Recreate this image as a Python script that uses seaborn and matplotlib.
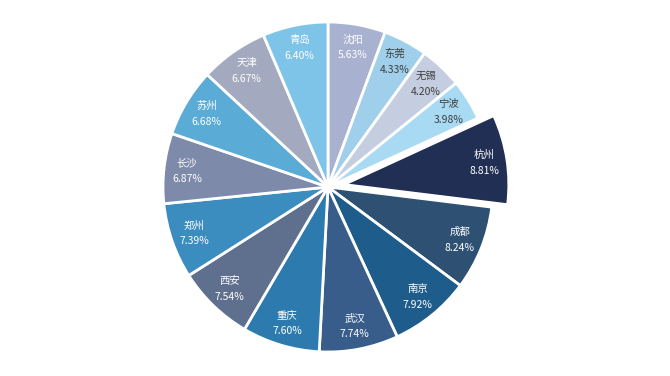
import matplotlib
matplotlib.use("Agg")
import matplotlib.pyplot as plt
import seaborn as sns

# city shares (%), clockwise from 12 o'clock
cities = ["沈阳", "东莞", "无锡", "宁波", "杭州", "成都", "南京", "武汉",
          "重庆", "西安", "郑州", "长沙", "苏州", "天津", "青岛"]
shares = [5.63, 4.33, 4.20, 3.98, 8.81, 8.24, 7.92, 7.74,
          7.60, 7.54, 7.39, 6.87, 6.68, 6.67, 6.40]
colors = ["#A9B1D0", "#9FCFEA", "#C5CEE0", "#A9DAF3", "#222F55", "#2E5072",
          "#1E5C8C", "#385D8A", "#2D7BAE", "#5F6F8E", "#3B8DC0", "#7E8AA9",
          "#5AABD5", "#A3A9BF", "#7EC4E9"]
dark_text = ["东莞", "无锡", "宁波"]

sns.set_theme(style="white")
plt.rcParams["font.family"] = ["Noto Sans CJK SC", "DejaVu Sans"]

fig = plt.figure(figsize=(6.7, 3.76), dpi=100)
ax = fig.add_axes([0, 0, 1, 1])

# explode offset is in data units (pixels here)
explode = [16 if c == "杭州" else 0 for c in cities]
labels = [f"{c}\n{v:.2f}%" for c, v in zip(cities, shares)]

wedges, texts = ax.pie(
    shares,
    labels=labels,
    colors=colors,
    explode=explode,
    startangle=90,
    counterclock=False,
    radius=165,
    center=(0, 0),
    labeldistance=0.86,
    wedgeprops=dict(edgecolor="white", linewidth=2),
    textprops=dict(fontsize=7.5, linespacing=1.7),
)
for t, c in zip(texts, cities):
    t.set_color("#404040" if c in dark_text else "white")
    t.set_ha("center")
    t.set_va("center")

ax.set_xlim(-328, 670 - 328)
ax.set_ylim(-(376 - 187), 187)
ax.set_aspect("equal")
ax.axis("off")

fig.savefig("out.png", dpi=100)
